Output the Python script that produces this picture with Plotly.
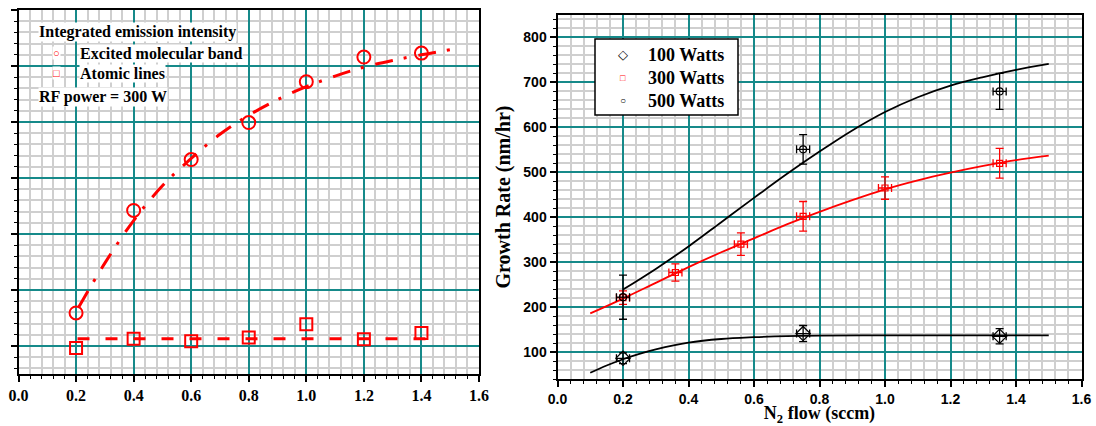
import plotly.graph_objects as go

# ---------------- Left panel data ----------------
flow_left = [0.2, 0.4, 0.6, 0.8, 1.0, 1.2, 1.4]
molecular_band = [0.59, 2.42, 3.33, 3.99, 4.72, 5.16, 5.23]
atomic_lines = [-0.035, 0.13, 0.084, 0.15, 0.39, 0.12, 0.23]

mol_fit_x = [0.21, 0.3, 0.4, 0.5, 0.6, 0.7, 0.8, 0.9, 1.0, 1.1, 1.2, 1.3, 1.4, 1.5]
mol_fit_y = [0.70, 1.48, 2.24, 2.86, 3.35, 3.78, 4.12, 4.40, 4.63, 4.82, 4.98, 5.10, 5.20, 5.29]
atom_fit_x = [0.205, 1.47]
atom_fit_y = [0.13, 0.13]

left_legend_title = "Integrated emission intensity"
left_labels = ["Excited molecular band", "Atomic lines"]
left_note = "RF power = 300 W"

# ---------------- Right panel data ----------------
x100 = [0.2, 0.75, 1.35]
y100 = [86, 141, 135]
e100 = [12, 18, 17]

x300 = [0.2, 0.36, 0.56, 0.75, 1.0, 1.35]
y300 = [221, 277, 340, 402, 465, 520]
e300 = [15, 19, 25, 33, 25, 33]

x500 = [0.2, 0.75, 1.35]
y500 = [222, 551, 680]
e500 = [49, 33, 40]

xerr = 0.02

fit100_x = [0.1, 0.15, 0.2, 0.25, 0.3, 0.4, 0.5, 0.6, 0.7, 0.8, 1.0, 1.2, 1.5]
fit100_y = [54, 70, 84, 96, 106, 121, 129, 133, 135.5, 136.5, 137, 137, 137]

fit300_x = [0.1, 0.2, 0.3, 0.4, 0.5, 0.6, 0.7, 0.8, 0.9, 1.0, 1.1, 1.2, 1.3, 1.4, 1.5]
fit300_y = [186, 219, 254, 289, 322, 353, 384, 412, 438, 462, 482, 499, 514, 527, 537]

fit500_x = [0.2, 0.3, 0.4, 0.5, 0.6, 0.7, 0.8, 0.9, 1.0, 1.1, 1.2, 1.3, 1.4, 1.5]
fit500_y = [239, 285, 335, 389, 443, 496, 546, 593, 634, 667, 693, 712, 728, 741]

right_labels = ["100 Watts", "300 Watts", "500 Watts"]

x_ticks = [0.0, 0.2, 0.4, 0.6, 0.8, 1.0, 1.2, 1.4, 1.6]
y2_ticks = [100, 200, 300, 400, 500, 600, 700, 800]

W, H = 1096, 426
RED = "#ff0000"
TEAL = "#168a8a"
MINOR = "#cfcfcf"
SERIF = "Liberation Serif"
SANS = "Liberation Sans"

fig = go.Figure()

# ---- left panel traces
fig.add_trace(go.Scatter(x=mol_fit_x, y=mol_fit_y, mode="lines",
                         line=dict(color=RED, width=3, dash="18px,11px,3px,12px", shape="spline"),
                         xaxis="x", yaxis="y", showlegend=False, hoverinfo="skip"))
fig.add_trace(go.Scatter(x=atom_fit_x, y=atom_fit_y, mode="lines", line=dict(color=RED, width=3, dash="12px,16px"),
                         xaxis="x", yaxis="y", showlegend=False, hoverinfo="skip"))
fig.add_trace(go.Scatter(x=flow_left, y=molecular_band, mode="markers",
                         marker=dict(symbol="circle-open", size=13, color=RED, line=dict(width=2, color=RED)),
                         xaxis="x", yaxis="y", showlegend=False))
fig.add_trace(go.Scatter(x=flow_left, y=atomic_lines, mode="markers",
                         marker=dict(symbol="square-open", size=12, color=RED, line=dict(width=2, color=RED)),
                         xaxis="x", yaxis="y", showlegend=False))

# ---- right panel traces
fig.add_trace(go.Scatter(x=fit100_x, y=fit100_y, mode="lines", line=dict(color="black", width=1.8, shape="spline"),
                         xaxis="x2", yaxis="y2", showlegend=False, hoverinfo="skip"))
fig.add_trace(go.Scatter(x=fit300_x, y=fit300_y, mode="lines", line=dict(color=RED, width=1.8, shape="spline"),
                         xaxis="x2", yaxis="y2", showlegend=False, hoverinfo="skip"))
fig.add_trace(go.Scatter(x=fit500_x, y=fit500_y, mode="lines", line=dict(color="black", width=1.8, shape="spline"),
                         xaxis="x2", yaxis="y2", showlegend=False, hoverinfo="skip"))


def pts(x, y, e, name, symbol, size, color):
    return go.Scatter(x=x, y=y, mode="markers", name=name,
                      marker=dict(symbol=symbol, size=size, color=color, line=dict(width=1.2, color=color)),
                      error_y=dict(type="data", array=e, color=color, thickness=1.3, width=4),
                      error_x=dict(type="constant", value=xerr, color=color, thickness=1.3, width=4),
                      xaxis="x2", yaxis="y2", showlegend=False)


fig.add_trace(pts(x100, y100, e100, right_labels[0], "diamond-open", 11, "black"))
fig.add_trace(pts(x300, y300, e300, right_labels[1], "square-open", 6, RED))
fig.add_trace(pts(x500, y500, e500, right_labels[2], "circle-open", 7, "black"))


def axis_common():
    return dict(showgrid=True, gridcolor=TEAL, gridwidth=1.5, showline=True, linecolor="black", linewidth=2,
                mirror=True, ticks="outside", ticklen=6, tickwidth=1.5, tickcolor="black", zeroline=False,
                automargin=False,
                minor=dict(showgrid=True, gridcolor=MINOR, gridwidth=1.5, ticks="outside", ticklen=3,
                           tickcolor="black", tickwidth=1))


def btext(vals, fmt):
    return ["<b>" + format(v, fmt) + "</b>" for v in vals]


ax_x = axis_common()
ax_x.update(domain=[18.5 / W, 479 / W], range=[0, 1.6], tickmode="array", tickvals=x_ticks,
            ticktext=btext(x_ticks, ".1f"), anchor="y",
            tickfont=dict(family=SERIF, size=16, color="black"))
ax_x["minor"].update(dtick=0.04, tick0=0)
ax_y = axis_common()
ax_y.update(domain=[1 - 374 / H, 1 - 10 / H], range=[-0.5, 6.0], dtick=1, tick0=0,
            showticklabels=False, anchor="x")
ax_y["minor"].update(dtick=0.2, tick0=0)

ax_x2 = axis_common()
ax_x2.update(domain=[557.5 / W, 1081.5 / W], range=[0, 1.6], tickmode="array", tickvals=x_ticks,
             ticktext=btext(x_ticks, ".1f"), anchor="y2",
             tickfont=dict(family=SANS, size=14, color="black"),
             title=dict(text="<b>N<sub>2</sub> flow (sccm)</b>", standoff=11,
                        font=dict(family=SERIF, size=18, color="black")))
ax_x2["minor"].update(dtick=0.04, tick0=0)
ax_y2 = axis_common()
ax_y2.update(domain=[1 - 379 / H, 1 - 15 / H], range=[40, 850], tickmode="array", tickvals=y2_ticks,
             ticktext=btext(y2_ticks, "d"), anchor="x2",
             tickfont=dict(family=SANS, size=14, color="black"),
             title=dict(text="<b>Growth Rate (nm/hr)</b>", standoff=7,
                        font=dict(family=SERIF, size=20, color="black")))
ax_y2["minor"].update(dtick=20, tick0=0)

annots = []


def note(text, x, y, size=16, color="black", xanchor="left", bg="white"):
    annots.append(dict(text=text, xref="paper", yref="paper", x=x / W, y=1 - y / H,
                       xanchor=xanchor, yanchor="middle", showarrow=False, bgcolor=bg, borderpad=0,
                       font=dict(family=SERIF, size=size, color=color)))


# left panel key
note("<b>" + left_legend_title + "</b>", 38, 32)
note("<b>○</b>", 56, 53, size=11, color=RED, xanchor="center")
note("<b>" + left_labels[0] + "</b>", 79, 53)
note("<b>□</b>", 56, 73, size=11, color=RED, xanchor="center")
note("<b>" + left_labels[1] + "</b>", 79, 73)
note("<b>" + left_note + "</b>", 38, 97)

# right panel key (boxed)
key_rows = [55, 78, 101]
key_glyphs = [("◇", "black", 13), ("□", RED, 9), ("○", "black", 10)]
for (g, c, s), yy, lab in zip(key_glyphs, key_rows, right_labels):
    note(g, 623, yy, size=s, color=c, xanchor="center", bg=None)
    note("<b>" + lab + "</b>", 647, yy, size=18, bg=None)

shapes = [dict(type="rect", xref="paper", yref="paper", x0=595 / W, x1=738 / W, y0=1 - 115 / H, y1=1 - 39 / H,
               line=dict(color="black", width=1.5), fillcolor="white", layer="above")]

fig.update_layout(
    width=W, height=H,
    margin=dict(l=0, r=0, t=0, b=0),
    paper_bgcolor="white", plot_bgcolor="white",
    font=dict(family=SERIF, size=16, color="black"),
    xaxis=ax_x, yaxis=ax_y, xaxis2=ax_x2, yaxis2=ax_y2,
    showlegend=False,
    shapes=shapes,
    annotations=annots,
)

fig.write_html("out.html")
